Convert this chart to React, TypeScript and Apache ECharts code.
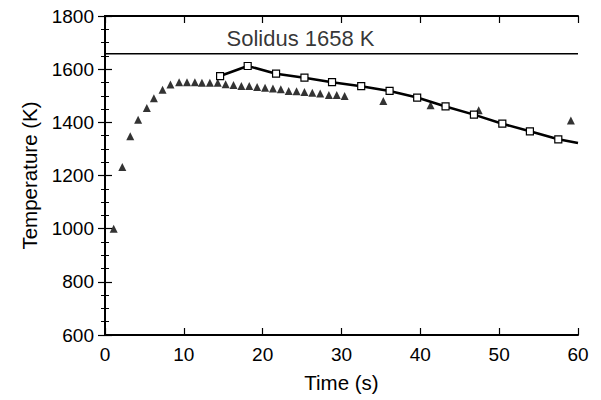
import React, { useEffect, useRef } from "react";
import * as echarts from "echarts";

const triTimes = [1.1, 2.2, 3.2, 4.2, 5.3, 6.2, 7.3, 8.3, 9.4, 10.4, 11.4, 12.3, 13.3, 14.3, 15.3, 16.3, 17.3, 18.3, 19.3, 20.3, 21.3, 22.3, 23.3, 24.3, 25.3, 26.3, 27.3, 28.4, 29.4, 30.4, 35.3, 41.3, 47.4, 59.1];
const triTemps = [1000, 1232, 1348, 1410, 1454, 1491, 1523, 1542, 1551, 1551, 1551, 1549, 1549, 1549, 1543, 1540, 1537, 1537, 1533, 1530, 1527, 1524, 1518, 1517, 1514, 1511, 1508, 1503, 1503, 1499, 1480, 1464, 1445, 1407];

const sqTimes = [14.6, 18.1, 21.7, 25.3, 28.8, 32.5, 36.1, 39.6, 43.2, 46.8, 50.4, 53.9, 57.5];
const sqTemps = [1574, 1612, 1583, 1568, 1551, 1536, 1518, 1493, 1460, 1429, 1395, 1366, 1336];
const lineEnd = [60, 1322];

const solidusTemp = 1658;
const solidusLabel = "Solidus 1658 K";
const solidusLabelPos = [24.8, 1717];

const xTicks = { min: 0, max: 60, interval: 10 };
const yTicks = { min: 600, max: 1800, interval: 200 };

const FONT = "Liberation Sans, Arial, Helvetica, sans-serif";

export default function App() {
  const ref = useRef<HTMLDivElement>(null);
  useEffect(() => {
    if (!ref.current) return;
    const chart = echarts.init(ref.current, null, { renderer: "svg" });
    const axisLine = { show: true, lineStyle: { color: "#000", width: 2 } };
    const xBase = {
      type: "value",
      min: xTicks.min,
      max: xTicks.max,
      interval: xTicks.interval,
      axisLine,
      axisTick: { show: true, inside: true, length: 7, lineStyle: { color: "#000", width: 1.2 } },
      splitLine: { show: false },
    };
    const yBase = {
      type: "value",
      min: yTicks.min,
      max: yTicks.max,
      interval: yTicks.interval,
      axisLine,
      axisTick: { show: true, inside: true, length: 7, lineStyle: { color: "#000", width: 1.2 } },
      minorTick: { show: true, splitNumber: 4, length: 4, lineStyle: { color: "#000", width: 1 } },
      splitLine: { show: false },
    };
    const tickStyle = { color: "#000", fontSize: 19, fontFamily: FONT };
    const nameStyle = { color: "#000", fontSize: 20.5, fontFamily: FONT };
    chart.setOption({
      animation: false,
      backgroundColor: "#fff",
      grid: { left: 105, right: 23, top: 16, bottom: 65 },
      xAxis: [
        {
          ...xBase,
          position: "bottom",
          name: "Time (s)",
          nameLocation: "middle",
          nameGap: 37,
          nameTextStyle: { ...nameStyle },
          axisLabel: { ...tickStyle, margin: 10, formatter: (v: number) => String(v) },
        },
        { ...xBase, position: "top", axisLabel: { show: false } },
      ],
      yAxis: [
        {
          ...yBase,
          position: "left",
          name: "Temperature (K)",
          nameLocation: "middle",
          nameGap: 65,
          nameTextStyle: { ...nameStyle },
          axisLabel: { ...tickStyle, margin: 11, formatter: (v: number) => String(v) },
        },
        { ...yBase, position: "right", axisLabel: { show: false } },
      ],
      series: [
        {
          type: "line",
          data: [
            [xTicks.min, solidusTemp],
            [xTicks.max, solidusTemp],
          ],
          symbol: "none",
          lineStyle: { color: "#000", width: 1.3 },
          z: 1,
        },
        {
          type: "scatter",
          data: [solidusLabelPos],
          symbolSize: 0,
          label: {
            show: true,
            position: "inside",
            formatter: solidusLabel,
            color: "#000",
            fontSize: 22,
            fontFamily: FONT,
          },
          z: 1,
        },
        {
          type: "scatter",
          data: triTimes.map((t, i) => [t, triTemps[i]]),
          symbol: "triangle",
          symbolSize: 8,
          itemStyle: { color: "#000" },
          z: 2,
        },
        {
          type: "line",
          data: [
            ...sqTimes.map((t, i) => [t, sqTemps[i]]),
            { value: lineEnd, symbol: "none" },
          ],
          symbol: "rect",
          symbolSize: 7,
          showAllSymbol: true,
          lineStyle: { color: "#000", width: 2.6 },
          itemStyle: { color: "#fff", borderColor: "#000", borderWidth: 1.2 },
          z: 3,
        },
      ],
    });
    return () => chart.dispose();
  }, []);
  return (
    <div
      ref={ref}
      style={{ position: "fixed", left: 0, top: 0, width: 601, height: 400 }}
    />
  );
}
